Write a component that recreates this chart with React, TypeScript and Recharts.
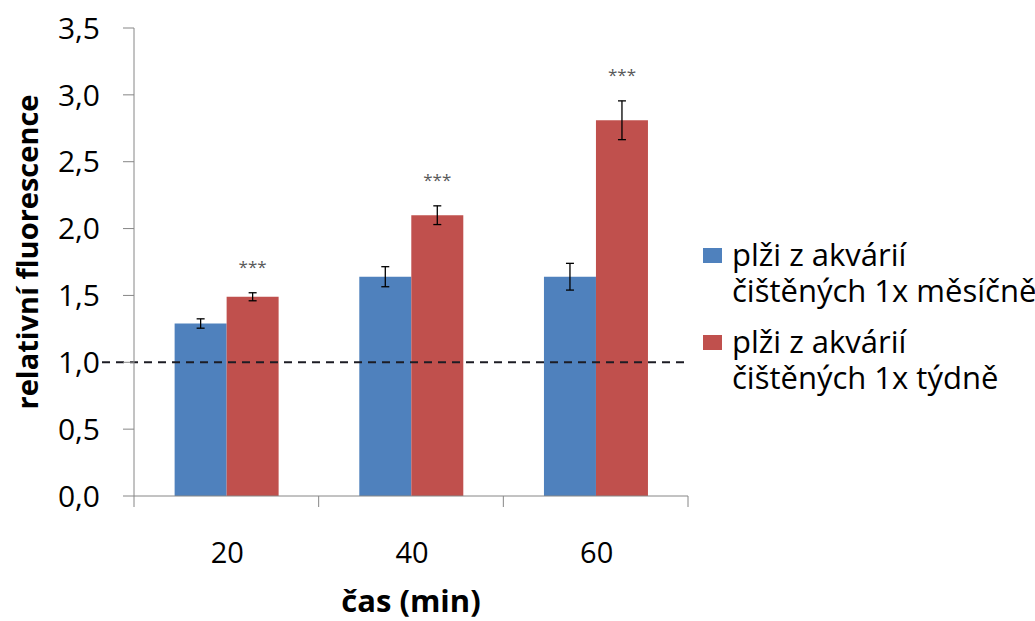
import React from 'react';
import { BarChart, Bar, XAxis, YAxis, ErrorBar, ReferenceLine, Legend, LabelList } from 'recharts';

const categories = ['20', '40', '60'];
const blueValues = [1.29, 1.64, 1.64];
const blueErrors = [0.035, 0.075, 0.1];
const redValues = [1.49, 2.1, 2.81];
const redErrors = [0.03, 0.07, 0.145];
const significance = ['***', '***', '***'];
const yTicks = [0, 0.5, 1, 1.5, 2, 2.5, 3, 3.5];
const seriesNames = ['plži z akvárií\nčištěných 1x měsíčně', 'plži z akvárií\nčištěných 1x týdně'];
const referenceValue = 1;
const xTitle = 'čas (min)';
const yTitle = 'relativní fluorescence';

const BLUE = '#4F81BD';
const RED = '#C0504D';
const AXIS = '#868686';
const FONT = '"Open Sans", "Noto Sans", sans-serif';

const data = categories.map((c, i) => ({
  cat: c,
  blue: blueValues[i],
  blueErr: blueErrors[i],
  red: redValues[i],
  redErr: redErrors[i],
  sig: significance[i],
}));

const XTick = (props: any) => {
  const { x, y, payload, index, visibleTicksCount } = props;
  const off = payload && payload.offset ? payload.offset : 92;
  const last = index === (visibleTicksCount ?? categories.length) - 1;
  return (
    <g>
      <line x1={x - off} y1={y} x2={x - off} y2={y + 11} stroke={AXIS} strokeWidth={1} />
      {last && <line x1={x + off} y1={y} x2={x + off} y2={y + 11} stroke={AXIS} strokeWidth={1} />}
      <text x={x + 1} y={y + 67} textAnchor="middle" fontSize={29} fill="#000" fontFamily={FONT}>
        {payload.value}
      </text>
    </g>
  );
};

const StarLabel = (props: any) => {
  const { x, y, width, height, value, index } = props;
  const i = index ?? 0;
  const v = redValues[i];
  const perUnit = Number(height) / v;
  const top = Number(y) - redErrors[i] * perUnit;
  return (
    <text x={Number(x) + Number(width) / 2} y={top - 20} textAnchor="middle" fontSize={17} fill="#595959" fontFamily={FONT}>
      {value}
    </text>
  );
};

const RefShape = (props: any) => {
  const { x1, y1, x2, y2 } = props;
  return <line x1={x1 - 32} y1={y1} x2={x2 - 2} y2={y2} stroke="#1c1c24" strokeWidth={2} strokeDasharray="8 6" />;
};

const YLabel = (props: any) => {
  const vb = props.viewBox || { x: 0, y: 28, width: 134, height: 468 };
  const cx = vb.x + 38;
  const cy = vb.y + vb.height / 2 - 10;
  return (
    <text x={cx} y={cy} transform={`rotate(-90, ${cx}, ${cy})`} textAnchor="middle" fontSize={29} fontWeight="bold" fill="#000" fontFamily={FONT}>
      {yTitle}
    </text>
  );
};

const LegendContent = (props: any) => {
  const payload = props.payload || [];
  return (
    <div style={{ fontFamily: FONT, fontSize: 31, lineHeight: '36px', color: '#000' }}>
      {payload.map((entry: any, i: number) => (
        <div key={i} style={{ display: 'flex', alignItems: 'flex-start', marginBottom: 15 }}>
          <div style={{ width: 19, height: 15, background: entry.color, marginTop: 12, marginRight: 10, flexShrink: 0 }} />
          <div style={{ whiteSpace: 'pre' }}>{entry.value}</div>
        </div>
      ))}
    </div>
  );
};

export default function App() {
  return (
    <div style={{ position: 'absolute', left: 0, top: 0, width: 1035, height: 621, background: '#fff' }}>
      <BarChart
        width={1035}
        height={621}
        data={data}
        margin={{ top: 28, right: 347, left: 0, bottom: 0 }}
        barCategoryGap="22%"
        barGap={0}
      >
        <XAxis
          dataKey="cat"
          height={125}
          stroke={AXIS}
          tickLine={false}
          tickSize={0}
          tickMargin={0}
          tick={<XTick />}
          interval={0}
          label={{ value: xTitle, position: 'insideBottom', offset: 9, style: { fontFamily: FONT, fontSize: 31, fontWeight: 'bold', fill: '#000' } }}
        />
        <YAxis
          width={134}
          domain={[0, 3.5]}
          ticks={yTicks}
          interval={0}
          stroke={AXIS}
          tickSize={11}
          tickMargin={23}
          tickFormatter={(v: number) => v.toFixed(1).replace('.', ',')}
          tick={{ fill: '#000', fontSize: 30, fontFamily: FONT }}
          label={<YLabel />}
        />
        <Legend
          layout="vertical"
          align="center"
          verticalAlign="middle"
          wrapperStyle={{ left: 703, top: 236, width: 332 }}
          content={<LegendContent />}
        />
        <Bar dataKey="blue" name={seriesNames[0]} fill={BLUE} isAnimationActive={false}>
          <ErrorBar dataKey="blueErr" width={4} stroke="#000" strokeWidth={1.3} direction="y" />
        </Bar>
        <Bar dataKey="red" name={seriesNames[1]} fill={RED} isAnimationActive={false}>
          <ErrorBar dataKey="redErr" width={4} stroke="#000" strokeWidth={1.3} direction="y" />
          <LabelList dataKey="sig" content={<StarLabel />} />
        </Bar>
        <ReferenceLine y={referenceValue} shape={<RefShape />} />
      </BarChart>
    </div>
  );
}
